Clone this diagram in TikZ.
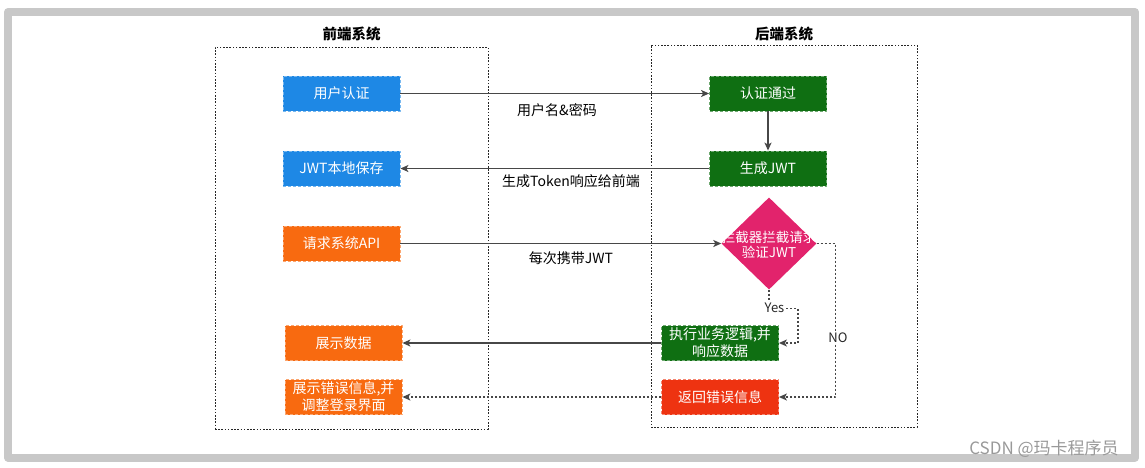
\documentclass[tikz,border=0pt]{standalone}
\usepackage{fontspec}
\setmainfont{Noto Sans CJK SC}
\usetikzlibrary{shapes.geometric,arrows.meta}
\definecolor{kblue}{HTML}{1E88E5}
\definecolor{korange}{HTML}{F86A10}
\definecolor{kgreen}{HTML}{0F6F12}
\definecolor{kpink}{HTML}{E2236C}
\definecolor{kred}{HTML}{EE3311}
\definecolor{kframe}{HTML}{C8C8C8}
\definecolor{kedge}{HTML}{474747}
\begin{document}
\begin{tikzpicture}[x=1pt, y=-1pt, font=\fontsize{14}{17}\selectfont, line join=round, >={Stealth[length=8pt,width=7pt,inset=2pt]},
		box/.style={rectangle, minimum width=117pt, minimum height=35pt, inner sep=1pt, text=white, align=center, dash pattern=on 3pt off 2pt, line width=0.8pt},
		group/.style={draw=black!85, dash pattern=on 1.6pt off 1.6pt, line width=0.9pt},
		title/.style={font=\fontsize{14.5}{17}\selectfont\bfseries},
		flow/.style={->, draw=kedge, line width=1.3pt},
		dotflow/.style={flow, dash pattern=on 2pt off 2pt},
		lbl/.style={text=black, inner sep=1pt},
		small/.style={text=black!85, inner sep=1pt, font=\fontsize{13}{15}\selectfont}]
			\useasboundingbox (0,0) rectangle (1145,467);
			\draw[line width=8pt, kframe] (8,12) rectangle (1135,457.5);
			% hai khung he thong
			\node[group, minimum width=273pt, minimum height=382pt] (front) at (351.5,238) {};
			\node[group, minimum width=266pt, minimum height=382pt] (back) at (784,236) {};
			\node[title] (fronttitle) at ([yshift=13pt]front.north) {前端系统};
			\node[title] (backtitle) at ([yshift=11pt]back.north) {后端系统};
			% phia truoc
			\node[box, fill=kblue, draw=kblue!60!white] (auth) at (341.5,93.5) {用户认证};
			\node[box, fill=kblue, draw=kblue!60!white] (store) at (341.5,168.5) {JWT本地保存};
			\node[box, fill=korange, draw=korange!60!white] (req) at (341.5,243.5) {请求系统API};
			\node[box, fill=korange, draw=korange!60!white] (show) at (343.5,343) {展示数据};
			\node[box, fill=korange, draw=korange!60!white] (showerr) at (343.5,397) {展示错误信息,并\\调整登录界面};
			% phia sau
			\node[box, fill=kgreen, draw=kgreen!60!white] (pass) at (768,93.5) {认证通过};
			\node[box, fill=kgreen, draw=kgreen!60!white] (gen) at (768,168.5) {生成JWT};
			\node[diamond, fill=kpink, minimum width=95pt, minimum height=92pt, inner sep=0pt] (chk) at (769,243.5) {};
			\node[text=white, align=center, inner sep=0pt, font=\fontsize{13.5}{15}\selectfont] (chktext) at (769,244.5) {拦截器拦截请求\\验证JWT};
			\node[box, fill=kgreen, draw=kgreen!60!white] (exec) at (720,343) {执行业务逻辑,并\\响应数据};
			\node[box, fill=kred, draw=kred!60!white] (err) at (720,397) {返回错误信息};
			% cac mui ten
			\draw[flow] (auth.east) -- (pass.west);
			\draw[flow] (pass.south) -- (gen.north);
			\draw[flow] (gen.west) -- (store.east);
			\draw[flow] (req.east) -- (chk.west);
			\draw[dotflow] (chk.south) -- ++(0,19) -| ([xshift=19pt]exec.east) -- (exec.east);
			\draw[dotflow] (chk.east) -- ++(19,0) |- (err.east);
			\draw[flow] (exec.west) -- (show.east);
			\draw[dotflow] (err.west) -- (showerr.east);
			\node[lbl] (l1) at (557,110) {用户名\&密码};
			\node[lbl] (l2) at (571,181) {生成Token响应给前端};
			\node[lbl] (l3) at (571,258) {每次携带JWT};
			\node[small, fill=white] (yes) at (774.5,308) {Yes};
			\node[small, fill=white] (no) at (838,338) {NO};
			\node[text=black!40, inner sep=0pt, font=\fontsize{17}{17}\selectfont] (mark) at (1044,449) {CSDN @玛卡程序员};
		\end{tikzpicture}
\end{document}
